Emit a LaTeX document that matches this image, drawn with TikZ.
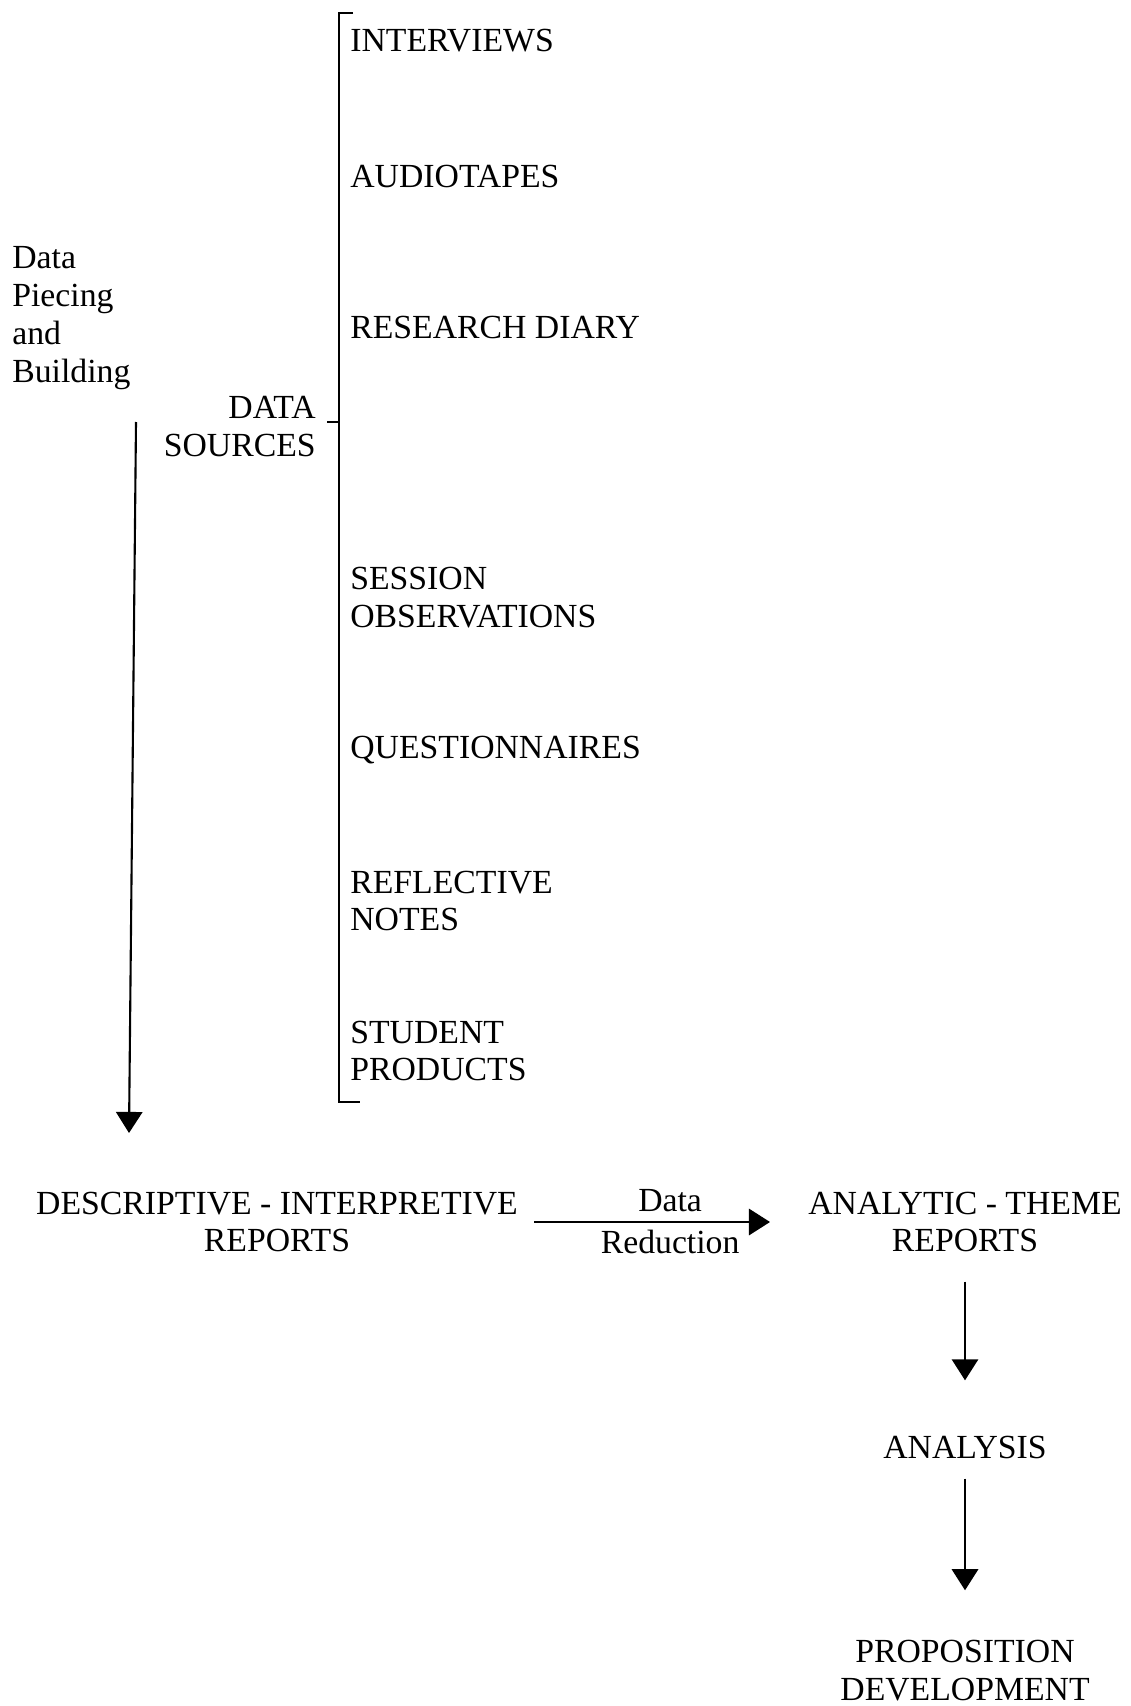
\documentclass[tikz,border=0pt]{standalone}
\usepackage{fontspec}
\setmainfont{Liberation Serif}
\usetikzlibrary{arrows.meta}

\begin{document}
\begin{tikzpicture}[x=0.02cm,y=-0.02cm,
    every node/.style={font=\fontsize{19.2}{21.6}\selectfont,inner sep=0pt},
    src/.style={anchor=west,align=left},
    bracket/.style={line width=1pt},
    arr/.style={line width=1.2pt,-{Triangle[width=15pt,length=12pt]}}]
      \useasboundingbox (0,0) rectangle (1130,1706) ;
      \node[src] (intv) at (350,41) {INTERVIEWS} ;
      \node[src] (audio) at (350,176) {AUDIOTAPES} ;
      \node[src] (diary) at (350,327) {RESEARCH DIARY} ;
      \node[src] (sess) at (350,598) {SESSION\\OBSERVATIONS} ;
      \node[src] (quest) at (350,750) {QUESTIONNAIRES} ;
      \node[src] (refl) at (350,901) {REFLECTIVE\\NOTES} ;
      \node[src] (stud) at (350,1051) {STUDENT\\PRODUCTS} ;
      \node[anchor=east,align=right] (sources) at (316,427) {DATA\\SOURCES} ;
      \node[anchor=west,align=left] (piece) at (12,318) {Data\\Piecing\\and\\Building} ;
      \draw[bracket] (353,13) -| (339,1102) -- (360,1102) ;
      \draw[bracket] (339,422) -- (327,422) ;
      \node[align=center] (desc) at (277,1222) {DESCRIPTIVE - INTERPRETIVE\\REPORTS} ;
      \node[align=center] (theme) at (965,1222) {ANALYTIC - THEME\\REPORTS} ;
      \node (analysis) at (965,1447) {ANALYSIS} ;
      \node[align=center] (prop) at (965,1671) {PROPOSITION\\DEVELOPMENT} ;
      \coordinate (pbtop) at (136,422) ;
      \coordinate (pbend) at (129,1133) ;
      \draw[arr] (pbtop) -- (pbend) ;
      \draw[arr,shorten <=0.32cm,shorten >=0.76cm] (desc.east) --
        node[above=5pt,xshift=4pt] (red1) {Data} node[below=4pt,xshift=4pt] (red2) {Reduction} (theme.west) ;
      \draw[arr,shorten <=0.58cm,shorten >=1.1cm] (theme.south) -- (analysis.north) ;
      \draw[arr,shorten <=0.4cm,shorten >=1cm] (analysis.south) -- (prop.north) ;
    \end{tikzpicture}
\end{document}
